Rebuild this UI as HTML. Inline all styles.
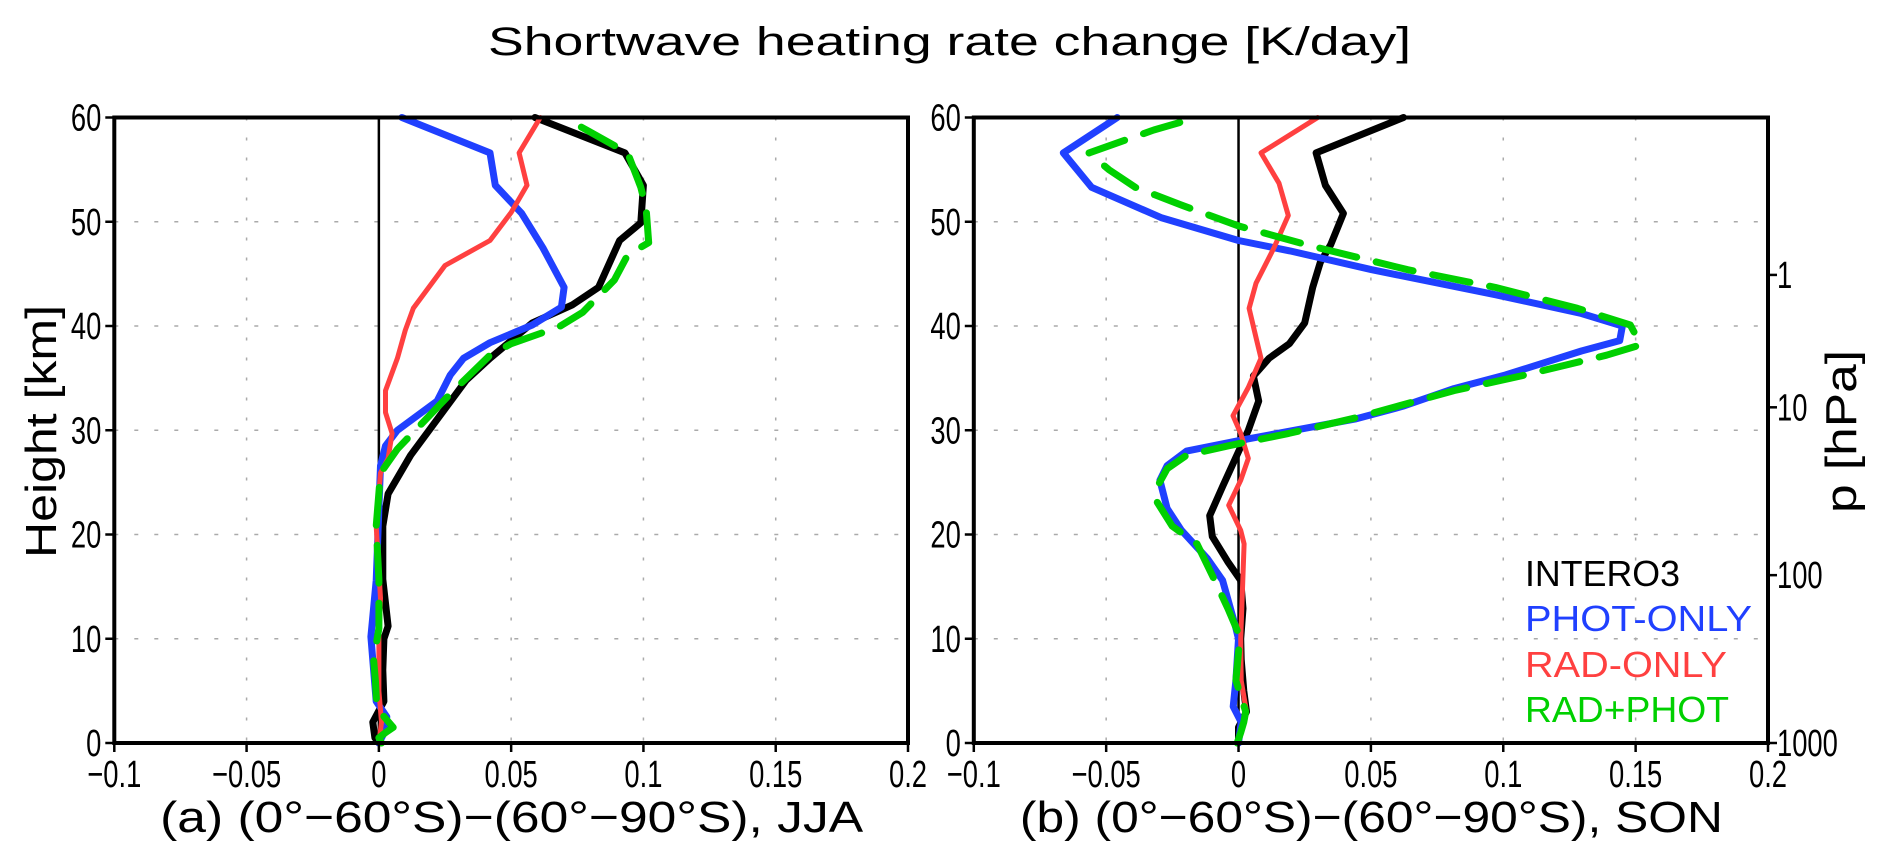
<!DOCTYPE html>
<html><head><meta charset="utf-8"><style>
html,body{margin:0;padding:0;background:#fff;}
svg{display:block;font-family:"Liberation Sans",sans-serif;}
</style></head><body>
<svg id="chart" width="1893" height="854" viewBox="0 0 1893 854" xmlns="http://www.w3.org/2000/svg"></svg>
<script>
// ---- data (K/day vs height km) ----
const xTicks = [-0.1, -0.05, 0, 0.05, 0.1, 0.15, 0.2];
const xTickLabels = ["-0.1", "-0.05", "0", "0.05", "0.1", "0.15", "0.2"];
const yTicks = [0, 10, 20, 30, 40, 50, 60];
const pTicks = [1000, 100, 10, 1];
const pTickHeights = [0, 16.1, 32.2, 44.9];
const seriesNames = ["INTERO3", "PHOT-ONLY", "RAD-ONLY", "RAD+PHOT"];

// Panel (a) JJA
const aBlackZ = [0,0.5,2,4,7,10,11.2,15.7,20.8,23.9,27.6,30,34.8,36.9,40.3,42,43.7,48.2,49.9,53.5,56.6,60];
const aBlackX = [0,-0.0015,-0.0023,0.0019,0.0015,0.0019,0.0035,0.0015,0.0015,0.0035,0.012,0.019,0.033,0.042,0.058,0.073,0.083,0.091,0.099,0.1,0.093,0.059];
const aBlueZ = [0,1,2.5,4,7,10.2,15.6,22.5,26.6,28.5,30,32.8,35.3,36.9,38.4,40.1,41.8,43.7,47.5,50.8,53.5,56.6,60];
const aBlueX = [0,0.002,0.003,-0.001,-0.002,-0.003,-0.001,0,0.0006,0.0025,0.007,0.022,0.027,0.032,0.042,0.058,0.069,0.07,0.062,0.054,0.044,0.042,0.0087];
const aRedZ = [0,2,5,10.2,13.9,20.8,25.9,27.3,29.7,31.7,33.8,36.9,39.6,41.7,45.8,48.2,50.9,53.5,56.6,60];
const aRedX = [0,0.001,0,0,0.0006,-0.001,0.0006,0.0035,0.005,0.0025,0.0025,0.007,0.01,0.013,0.025,0.042,0.05,0.056,0.053,0.061];
const aGreenZ = [0,0.5,1,1.5,2.5,3.5,6,8,11,15.7,20.8,25.9,28.2,31.9,33.5,37.2,38.3,39.9,41.3,44.4,46.8,48,51.3,53.3,56.6,60];
const aGreenX = [0.001,0,0.0025,0.0054,0.002,-0.0008,-0.0013,-0.002,0,0,-0.001,0.0006,0.007,0.021,0.027,0.042,0.05,0.068,0.077,0.089,0.094,0.102,0.101,0.099,0.094,0.07];

// Panel (b) SON
const bBlackZ = [0,1.5,3,5,8,10,12.9,15.6,17.4,19.8,21.8,24.6,27.3,30,32.8,35.2,36.9,38.3,40.3,43.7,46.1,47.8,50.8,53.5,56.6,60];
const bBlackX = [0,0,0.003,0.002,0.001,0.0008,0.0017,0.0008,-0.0041,-0.0099,-0.0109,-0.006,-0.0012,0.0037,0.0076,0.0056,0.0115,0.0192,0.025,0.028,0.0309,0.0348,0.0396,0.0328,0.0293,0.0623];
const bBlueZ = [0,2,3.5,6,10,11.2,15.6,17.7,20.4,22.5,25.2,26.6,28,29,29.9,31.1,32.3,34,35.3,37.6,38.6,40,41.2,43,45.4,47.2,48.2,50.4,53.3,56.6,60];
const bBlueX = [0,0.001,-0.002,-0.001,0,-0.0012,-0.006,-0.0118,-0.0216,-0.027,-0.0297,-0.027,-0.0196,0,0.019,0.0445,0.062,0.0814,0.1008,0.1295,0.144,0.145,0.1295,0.097,0.0503,0.0194,0,-0.0293,-0.0555,-0.0662,-0.0458];
const bRedZ = [0,1.5,3,6,10,19.1,20.4,22.8,25.2,27.3,29.7,31.4,34.1,36.9,38.9,41.7,44.1,47.5,50.6,53.7,56.6,60];
const bRedX = [0,0.001,0.003,0.001,0.0008,0.0021,0.0008,-0.0037,0.0008,0.0037,0.0008,-0.0021,0.0037,0.0085,0.0066,0.004,0.0066,0.0134,0.0188,0.0153,0.0085,0.0299];
const bGreenZ = [0,1,2,3,6,10.2,12.9,15.6,19.1,20.8,23.2,24.9,26.3,27.6,28.5,29.7,31.2,33.8,35.2,37.2,38.2,40.1,41.7,43.7,45.4,47.7,49.6,51.6,53.3,55,56.6,58.8,60];
const bGreenX = [-0.0005,0.0008,0.002,0.0027,-0.001,0.0005,-0.004,-0.009,-0.0157,-0.025,-0.031,-0.03,-0.027,-0.0196,-0.004,0.019,0.0445,0.0814,0.1066,0.139,0.152,0.148,0.128,0.097,0.0639,0.027,0,-0.0216,-0.039,-0.049,-0.0565,-0.032,-0.0157];

// ---- layout ----
const NS = "http://www.w3.org/2000/svg";
const svg = document.getElementById("chart");
const Y0 = 743, Y60 = 117.5;
const panels = [
  {id:"a", x0:114.3, x1:908, caption:"(a) (0°−60°S)−(60°−90°S), JJA",
   series:[[aBlackZ,aBlackX],[aBlueZ,aBlueX],[aRedZ,aRedX],[aGreenZ,aGreenX]]},
  {id:"b", x0:973.8, x1:1768, caption:"(b) (0°−60°S)−(60°−90°S), SON",
   series:[[bBlackZ,bBlackX],[bBlueZ,bBlueX],[bRedZ,bRedX],[bGreenZ,bGreenX]]}
];
const colors = ["#000000","#2040ff","#ff4040","#00d000"];
const widths = [7,7,5,7];
function yScale(z){ return Y0 + (Y60 - Y0) * z / 60; }
function mk(tag, attrs, parent){
  const e = document.createElementNS(NS, tag);
  for (const k in attrs) e.setAttribute(k, attrs[k]);
  (parent || svg).appendChild(e);
  return e;
}
function txt(str, x, y, size, anchor, sx, color, parent){
  const t = mk("text", {transform:`translate(${x},${y}) scale(${sx},1)`, "font-size":size, "text-anchor":anchor, fill:color||"#000"}, parent);
  t.textContent = str;
  return t;
}

const title = mk("text", {x:488, y:55, "font-size":40, fill:"#000", textLength:923, lengthAdjust:"spacingAndGlyphs"});
title.textContent = "Shortwave heating rate change [K/day]";



panels.forEach((p) => {
  const xScale = v => p.x0 + (p.x1 - p.x0) * (v + 0.1) / 0.3;
  const g = mk("g", {});
  
  
  xTicks.forEach((v) => {
    if (v === -0.1 || v === 0.2) return;
    const l = mk("line", {x1:xScale(v), x2:xScale(v), y1:Y60, y2:Y0, stroke:"#aaa", "stroke-width":1.5, "stroke-dasharray":"3 17"}, g);
    
    
  });
  yTicks.forEach((z) => {
    if (z === 0 || z === 60) return;
    const l = mk("line", {x1:p.x0, x2:p.x1, y1:yScale(z), y2:yScale(z), stroke:"#aaa", "stroke-width":1.5, "stroke-dasharray":"4 16"}, g);
    
    
  });
  const zl = mk("line", {x1:xScale(0), x2:xScale(0), y1:Y60, y2:Y0, stroke:"#000", "stroke-width":2.5}, g);
  
  
  p.series.forEach((s, i) => {
    const [zs, xs] = s;
    const pts = zs.map((z, k) => xScale(xs[k]).toFixed(1) + "," + yScale(z).toFixed(1)).join(" ");
    const attrs = {points:pts, fill:"none", stroke:colors[i], "stroke-width":widths[i], "stroke-linejoin":"round", "stroke-linecap":"round"};
    if (i === 3) { attrs["stroke-dasharray"] = "38 20"; }
    const pl = mk("polyline", attrs, g);
    
    
  });
  const fr = mk("rect", {x:p.x0, y:Y60, width:p.x1 - p.x0, height:Y0 - Y60, fill:"none", stroke:"#000", "stroke-width":4}, g);
  
  
  xTicks.forEach((v, k) => {
    const x = xScale(v);
    mk("line", {x1:x, x2:x, y1:Y0, y2:Y0 + 9, stroke:"#000", "stroke-width":2.5}, g);
    const t = txt(xTickLabels[k].replace("-", "−"), x, 787, 38, "middle", 0.72, "#000", g);
    
    
  });
  yTicks.forEach((z) => {
    const y = yScale(z);
    mk("line", {x1:p.x0 - 9, x2:p.x0, y1:y, y2:y, stroke:"#000", "stroke-width":2.5}, g);
    const t = txt(String(z), p.x0 - 13, y + 13, 38, "end", 0.72, "#000", g);
    
    
  });
  const cx = (p.x0 + p.x1) / 2;
  const cap = mk("text", {x:cx - 351, y:832, "font-size":44, fill:"#000", textLength:703, lengthAdjust:"spacingAndGlyphs"}, g);
  cap.textContent = p.caption;
  
  
});

const rx = 1768;
pTicks.forEach((pv, k) => {
  const y = yScale(pTickHeights[k]);
  mk("line", {x1:rx, x2:rx + 9, y1:y, y2:y, stroke:"#000", "stroke-width":2.5});
  const t = txt(String(pv), rx + 9, y + 13, 38, "start", 0.72, "#000");
  
  
});

const yl = mk("text", {transform:"translate(56,558) rotate(-90)", "font-size":44, fill:"#000", textLength:253, lengthAdjust:"spacingAndGlyphs"});
yl.textContent = "Height [km]";


const pl2 = mk("text", {transform:"translate(1856,513) rotate(-90)", "font-size":44, fill:"#000", textLength:163, lengthAdjust:"spacingAndGlyphs"});
pl2.textContent = "p [hPa]";



const legY = [586, 631, 677, 722];
const legW = [155, 227, 202, 204];
seriesNames.forEach((n, i) => {
  const t = mk("text", {x:1525, y:legY[i], "font-size":36, fill:colors[i], textLength:legW[i], lengthAdjust:"spacingAndGlyphs"});
  t.textContent = n;
  
  
});
</script>
</body></html>
